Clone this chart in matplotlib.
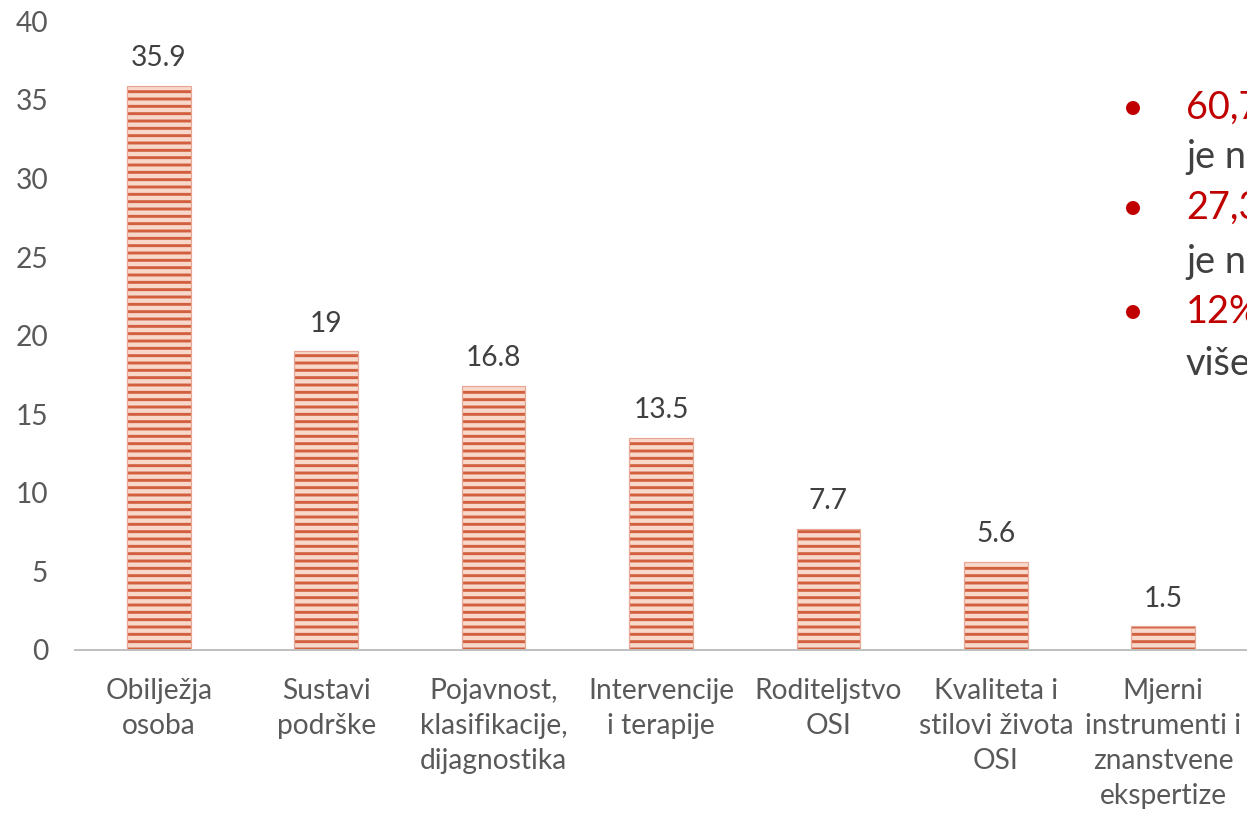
import matplotlib
matplotlib.use("Agg")
import matplotlib.pyplot as plt

categories = ["Obilježja\nosoba", "Sustavi\npodrške", "Pojavnost,\nklasifikacije,\ndijagnostika",
              "Intervencije\ni terapije", "Roditeljstvo\nOSI", "Kvaliteta i\nstilovi života\nOSI",
              "Mjerni\ninstrumenti i\nznanstvene\nekspertize"]
values = [35.9, 19, 16.8, 13.5, 7.7, 5.6, 1.5]
value_labels = ["35.9", "19", "16.8", "13.5", "7.7", "5.6", "1.5"]
yticks = [0, 5, 10, 15, 20, 25, 30, 35, 40]

bullet_red = ["60,7%", "27,3%", "12%"]
bullet_dark = ["je na", "je na", "više"]

W, H, DPI = 1247, 820, 88
plt.rcParams['font.family'] = ['Lato', 'DejaVu Sans']
plt.rcParams['hatch.linewidth'] = 2.4
plt.rcParams['hatch.color'] = '#d2603f'

fig = plt.figure(figsize=(W / DPI, H / DPI), dpi=DPI)
ax = fig.add_axes([75 / W, 1 - 650 / H, 1 - 75 / W, (650 - 21.4) / H])

x = list(range(len(categories)))
ax.bar(x, values, width=0.38, color='#f7d8cb', edgecolor='#d2603f',
       hatch='--', linewidth=0.0)
ax.bar(x, values, width=0.38, facecolor='none', edgecolor='#e6a894', linewidth=1.0)

fs = 23
for xi, v, lab in zip(x, values, value_labels):
    ax.annotate(lab, (xi, v), xytext=(0, 12), textcoords='offset points',
                ha='center', va='bottom', fontsize=fs, color='#404040')

ax.set_xlim(-0.5, len(categories) - 0.5)
ax.set_ylim(0, 40)
ax.set_yticks(yticks)
ax.set_yticklabels([str(t) for t in yticks], fontsize=fs, color='#595959')
ax.set_xticks(x)
ax.set_xticklabels(categories, fontsize=fs, color='#595959', linespacing=1.42, va='top')
ax.tick_params(axis='y', length=0, pad=22)
ax.tick_params(axis='x', length=0, pad=23)
for s in ['top', 'right', 'left']:
    ax.spines[s].set_visible(False)
ax.spines['bottom'].set_color('#bfbfbf')
ax.spines['bottom'].set_linewidth(1.6)
ax.set_facecolor('none')

fs_big = 31
red_y = [108, 208, 312]
dark_y = [157, 262, 364]
for r, d, ry, dy in zip(bullet_red, bullet_dark, red_y, dark_y):
    fig.text(1133 / W, 1 - ry / H, "•", color='#c00000', fontsize=fs_big, ha='center', va='center')
    fig.text(1186 / W, 1 - ry / H, r, color='#c00000', fontsize=fs_big, ha='left', va='center')
    fig.text(1186 / W, 1 - dy / H, d, color='#404040', fontsize=fs_big, ha='left', va='center')

fig.savefig("out.png", dpi=DPI)
